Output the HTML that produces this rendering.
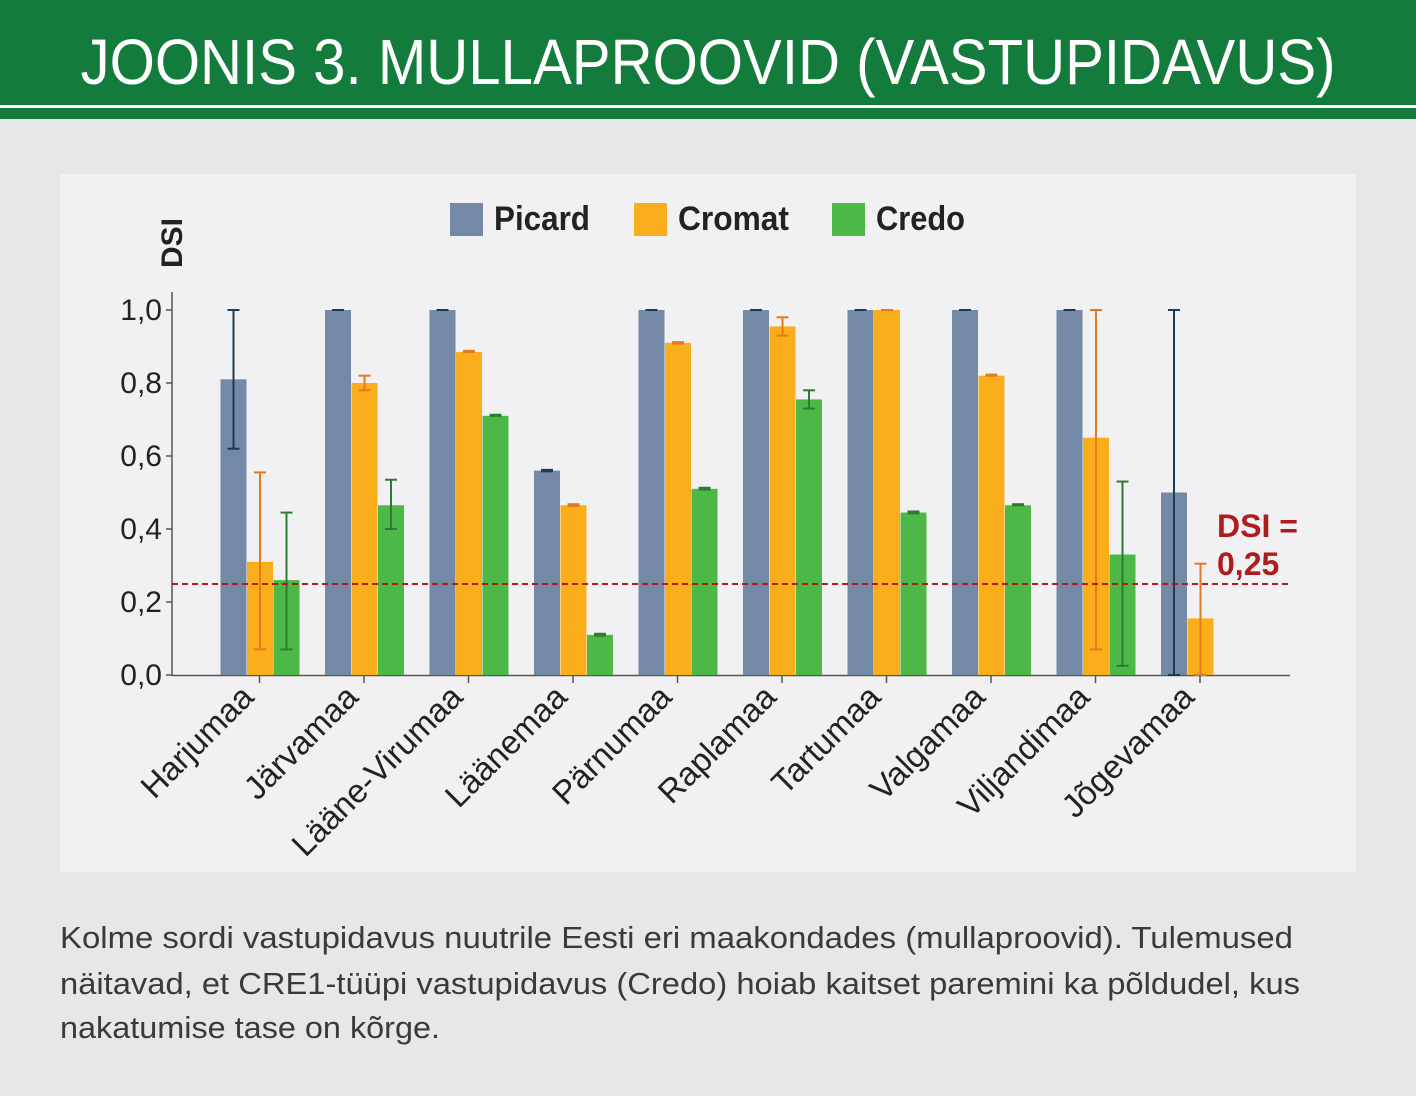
<!DOCTYPE html>
<html><head><meta charset="utf-8"><style>
html,body{margin:0;padding:0;background:#e6e7e9}
svg{display:block}
text{font-family:"Liberation Sans Narrow","Liberation Sans",sans-serif}
</style></head><body>
<svg width="1416" height="1096" viewBox="0 0 1416 1096" xmlns="http://www.w3.org/2000/svg">
<rect width="1416" height="1096" fill="#e6e7e9"/>
<rect width="1416" height="119" fill="#137c3c"/>
<rect x="0" y="105" width="1416" height="3" fill="#ffffff"/>
<text x="708" y="84" fill="#fff" font-size="64" text-anchor="middle" textLength="1255" lengthAdjust="spacingAndGlyphs">JOONIS 3. MULLAPROOVID (VASTUPIDAVUS)</text>
<rect x="60" y="174" width="1296" height="698" fill="#f1f1f3"/>
<rect x="450" y="203" width="33" height="33" fill="#7389a6"/>
<text x="494" y="230" font-size="34" font-weight="bold" fill="#222" textLength="96" lengthAdjust="spacingAndGlyphs">Picard</text>
<rect x="634" y="203" width="33" height="33" fill="#fbae1b"/>
<text x="678" y="230" font-size="34" font-weight="bold" fill="#222" textLength="111" lengthAdjust="spacingAndGlyphs">Cromat</text>
<rect x="832" y="203" width="33" height="33" fill="#4db848"/>
<text x="876" y="230" font-size="34" font-weight="bold" fill="#222" textLength="89" lengthAdjust="spacingAndGlyphs">Credo</text>
<text transform="translate(182,268) rotate(-90)" font-size="30" font-weight="bold" fill="#222">DSI</text>
<g stroke="#555" stroke-width="1.5">
<line x1="172" y1="292" x2="172" y2="676"/>
<line x1="172" y1="675.5" x2="1290" y2="675.5"/>
<line x1="166" y1="310" x2="172" y2="310"/><line x1="166" y1="383" x2="172" y2="383"/><line x1="166" y1="456" x2="172" y2="456"/><line x1="166" y1="529" x2="172" y2="529"/><line x1="166" y1="602" x2="172" y2="602"/><line x1="166" y1="675" x2="172" y2="675"/>
</g>
<g font-size="30" fill="#222" text-anchor="end">
<text x="162" y="320">1,0</text><text x="162" y="393">0,8</text><text x="162" y="466">0,6</text><text x="162" y="539">0,4</text><text x="162" y="612">0,2</text><text x="162" y="685">0,0</text>
</g>
<g id="bars"></g>
<line x1="172" y1="584" x2="1290" y2="584" stroke="#b01c1c" stroke-width="2" stroke-dasharray="6,4"/>
<text x="1217" y="537" font-size="32" font-weight="bold" fill="#b01c1c">DSI =</text>
<text x="1217" y="575" font-size="32" font-weight="bold" fill="#b01c1c">0,25</text>
<g font-size="33" fill="#222" text-anchor="end" id="cats"></g>
<text x="60" y="948" font-size="31" fill="#3a3a3a" textLength="1233" lengthAdjust="spacingAndGlyphs">Kolme sordi vastupidavus nuutrile Eesti eri maakondades (mullaproovid). Tulemused</text>
<text x="60" y="994" font-size="31" fill="#3a3a3a" textLength="1240" lengthAdjust="spacingAndGlyphs">näitavad, et CRE1-tüüpi vastupidavus (Credo) hoiab kaitset paremini ka põldudel, kus</text>
<text x="60" y="1038" font-size="31" fill="#3a3a3a" textLength="380" lengthAdjust="spacingAndGlyphs">nakatumise tase on kõrge.</text>
</svg>
<script>
const ns="http://www.w3.org/2000/svg";
const Y=v=>675-v*365;
const data=[
["Harjumaa",[0.81,0.62,1.0],[0.31,0.07,0.555],[0.26,0.07,0.445]],
["Järvamaa",[1,1,1],[0.80,0.78,0.82],[0.465,0.40,0.535]],
["Lääne-Virumaa",[1,1,1],[0.885,0.885,0.888],[0.71,0.71,0.713]],
["Läänemaa",[0.56,0.558,0.562],[0.465,0.463,0.468],[0.11,0.108,0.113]],
["Pärnumaa",[1,1,1],[0.91,0.908,0.912],[0.51,0.508,0.513]],
["Raplamaa",[1,1,1],[0.955,0.93,0.98],[0.755,0.73,0.78]],
["Tartumaa",[1,1,1],[1,1,1],[0.445,0.443,0.448]],
["Valgamaa",[1,1,1],[0.82,0.82,0.823],[0.465,0.465,0.468]],
["Viljandimaa",[1,1,1],[0.65,0.07,1.0],[0.33,0.025,0.53]],
["Jõgevamaa",[0.5,0,1.0],[0.155,0,0.305],null]];
const cols=["#7389a6","#fbae1b","#4db848"],ecs=["#1f3a55","#e8781e","#2f7a30"];
const g=document.getElementById("bars"),c=document.getElementById("cats");
function el(p,t,a){const e=document.createElementNS(ns,t);for(const k in a)e.setAttribute(k,a[k]);p.appendChild(e);return e;}
data.forEach((d,i)=>{
 const cx=259.5+i*104.5;
 for(let s=0;s<3;s++){const v=d[s+1];if(!v)continue;
  const x=cx-39+s*26.5;
  el(g,"rect",{x:x,y:Y(v[0]),width:26,height:675-Y(v[0]),fill:cols[s]});
  const mx=x+13;
  el(g,"line",{x1:mx,y1:Y(v[1]),x2:mx,y2:Y(v[2]),stroke:ecs[s],"stroke-width":2});
  el(g,"line",{x1:mx-6,y1:Y(v[1]),x2:mx+6,y2:Y(v[1]),stroke:ecs[s],"stroke-width":2});
  el(g,"line",{x1:mx-6,y1:Y(v[2]),x2:mx+6,y2:Y(v[2]),stroke:ecs[s],"stroke-width":2});
 }
 el(g,"line",{x1:cx,y1:675,x2:cx,y2:683,stroke:"#555","stroke-width":1.5});
 const t=el(c,"text",{transform:`translate(${cx-4},${699}) rotate(-45)`});t.textContent=d[0];
});
</script>
</body></html>
